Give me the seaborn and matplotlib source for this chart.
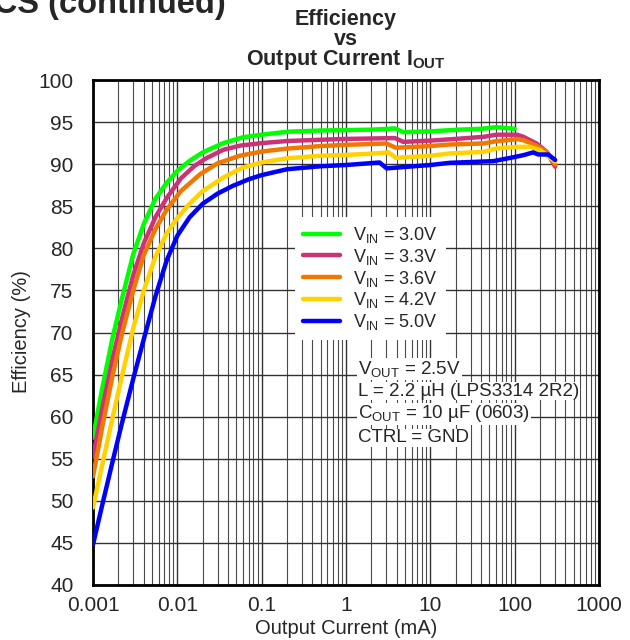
import numpy as np
import pandas as pd
import matplotlib
matplotlib.use("Agg")
import matplotlib.pyplot as plt
import seaborn as sns

# ---------------- data ----------------
x_30 = [0.001, 0.0013, 0.0017, 0.0022, 0.003, 0.004, 0.0055, 0.0075, 0.01, 0.014, 0.02,
        0.035, 0.06, 0.1, 0.2, 0.5, 1, 2, 3.8, 4.8, 10, 22, 40, 61, 100]
eff_30 = [57.5, 63.6, 69.3, 74.0, 79.3, 82.9, 85.9, 87.8, 89.2, 90.4, 91.4,
          92.5, 93.2, 93.5, 93.85, 94.0, 94.05, 94.1, 94.25, 93.8, 93.9, 94.1, 94.2, 94.4, 94.2]

x_33 = [0.001, 0.0013, 0.0017, 0.0022, 0.003, 0.004, 0.0055, 0.0075, 0.011, 0.016, 0.022, 0.035,
        0.055, 0.1, 0.2, 0.5, 1, 2, 3.8, 4.8, 10, 20, 43, 61, 107, 127, 182, 241, 302]
eff_33 = [55.2, 61.2, 66.8, 71.6, 76.8, 80.6, 83.7, 86.0, 88.3, 89.8, 90.7, 91.7,
          92.2, 92.5, 92.75, 92.9, 93.0, 93.05, 93.1, 92.65, 92.8, 93.0, 93.25, 93.5, 93.5, 93.25, 92.45, 91.45, 89.7]

x_36 = [0.001, 0.0013, 0.0017, 0.0022, 0.003, 0.004, 0.0055, 0.0075, 0.011, 0.0186, 0.03, 0.055,
        0.1, 0.2, 0.5, 1, 2, 3.0, 3.9, 10, 17, 43, 61, 107, 127, 182, 241, 302]
eff_36 = [52.9, 59.0, 64.8, 69.8, 75.0, 79.2, 82.3, 84.6, 86.8, 88.8, 90.1, 91.0,
          91.5, 91.85, 92.15, 92.3, 92.4, 92.46, 91.95, 92.15, 92.34, 92.46, 92.74, 92.97, 92.86, 92.18, 91.4, 89.96]

x_42 = [0.001, 0.0013, 0.0017, 0.0022, 0.003, 0.004, 0.0055, 0.0075, 0.01, 0.014, 0.02, 0.035,
        0.06, 0.1, 0.2, 0.5, 1, 2, 3.2, 3.9, 10, 17, 43, 61, 107, 152, 200, 302]
eff_42 = [49.2, 54.5, 59.8, 64.8, 70.5, 75.0, 79.0, 81.8, 83.6, 85.3, 86.8, 88.4,
          89.6, 90.2, 90.7, 91.0, 91.1, 91.25, 91.4, 90.75, 91.0, 91.27, 91.47, 91.87, 92.06, 92.06, 91.67, 90.3]

x_50 = [0.001, 0.0013, 0.0017, 0.0022, 0.003, 0.004, 0.0055, 0.0075, 0.01, 0.014, 0.02, 0.03,
        0.045, 0.07, 0.1, 0.2, 0.5, 1, 2.5, 3.03, 10, 17, 56, 89, 127, 166, 190, 250, 302]
eff_50 = [44.8, 49.7, 54.6, 59.2, 64.5, 69.2, 74.3, 78.6, 81.5, 83.7, 85.3, 86.5,
          87.4, 88.2, 88.7, 89.4, 89.75, 89.9, 90.2, 89.5, 89.9, 90.16, 90.36, 90.75, 91.07, 91.4, 91.15, 91.15, 90.5]

series_labels = [r"V$_{\mathregular{IN}}$ = 3.0V", r"V$_{\mathregular{IN}}$ = 3.3V",
                 r"V$_{\mathregular{IN}}$ = 3.6V", r"V$_{\mathregular{IN}}$ = 4.2V",
                 r"V$_{\mathregular{IN}}$ = 5.0V"]
series_colors = ["#00ff00", "#cc3377", "#f07800", "#ffd200", "#0000ff"]

x_ticks = [0.001, 0.01, 0.1, 1, 10, 100, 1000]
x_tick_labels = ["0.001", "0.01", "0.1", "1", "10", "100", "1000"]
y_ticks = list(range(40, 101, 5))

# ---------------- build long table ----------------
frames = []
for lab, xs, ys in zip(series_labels, [x_30, x_33, x_36, x_42, x_50],
                       [eff_30, eff_33, eff_36, eff_42, eff_50]):
    frames.append(pd.DataFrame({"current": xs, "eff": ys, "series": lab}))
df = pd.concat(frames, ignore_index=True)

# ---------------- style ----------------
sns.set_style("white")
plt.rcParams["font.family"] = ["Liberation Sans", "DejaVu Sans"]
plt.rcParams["mathtext.fontset"] = "custom"
plt.rcParams["mathtext.rm"] = "Liberation Sans"
plt.rcParams["mathtext.bf"] = "Liberation Sans:bold"
plt.rcParams["mathtext.default"] = "regular"

fig = plt.figure(figsize=(6.3, 6.4), dpi=100)
ax = fig.add_axes([93 / 630, 1 - 585 / 640, 506 / 630, 505 / 640])

sns.lineplot(data=df, x="current", y="eff", hue="series", hue_order=series_labels,
             palette=series_colors, estimator=None, sort=False, lw=3.2, ax=ax,
             legend=True, zorder=3)

ax.set_xscale("log")
ax.set_xlim(0.001, 1000)
ax.set_ylim(40, 100)
ax.set_xticks(x_ticks)
ax.set_xticklabels(x_tick_labels)
ax.set_yticks(y_ticks)
ax.set_yticklabels([str(v) for v in y_ticks])
ax.xaxis.set_minor_locator(matplotlib.ticker.LogLocator(base=10, subs=np.arange(2, 10)))
ax.xaxis.set_minor_formatter(matplotlib.ticker.NullFormatter())
ax.tick_params(axis="both", which="both", length=0, labelsize=15)
ax.tick_params(axis="y", pad=14)
ax.tick_params(axis="x", pad=8)

ax.grid(True, which="major", axis="both", color="#333333", lw=1.0, zorder=0)
ax.grid(True, which="minor", axis="x", color="#4a4a4a", lw=0.8, zorder=0)
ax.set_axisbelow(True)
for s in ax.spines.values():
    s.set_color("black")
    s.set_linewidth(2)
ax.set_xlabel("")
ax.set_ylabel("")

# legend
handles, labels = ax.get_legend_handles_labels()
leg = ax.legend(handles, labels, loc="upper left", bbox_to_anchor=(0.399, 0.729),
                frameon=True, facecolor="white", edgecolor="none", framealpha=1,
                fancybox=False, fontsize=13, handlelength=2.05, handletextpad=0.72,
                labelspacing=0.1, borderpad=0.45, borderaxespad=0)
for h in leg.get_lines():
    h.set_linewidth(3.2)
leg.set_zorder(5)

# conditions annotation
notes = [r"V$_{\mathregular{OUT}}$ = 2.5V", "L = 2.2 µH (LPS3314 2R2)",
         r"C$_{\mathregular{OUT}}$ = 10 µF (0603)", "CTRL = GND"]
note_y_px = [369, 391, 414, 438]
for t, ypx in zip(notes, note_y_px):
    ax.text(0.524, 1 - (ypx - 80) / 505, t, transform=ax.transAxes, fontsize=13.5,
            ha="left", va="center", zorder=6,
            bbox=dict(facecolor="white", edgecolor="none", pad=0.5))

# titles and labels
fig.text(346 / 630, 1 - 25 / 640, "Efficiency", ha="center", va="baseline",
         fontsize=15.5, weight="bold")
fig.text(346 / 630, 1 - 45 / 640, "vs", ha="center", va="baseline",
         fontsize=15.5, weight="bold")
fig.text(346 / 630, 1 - 65 / 640, r"Output Current I$_{\mathbf{OUT}}$", ha="center",
         va="baseline", fontsize=15.5, weight="bold")
fig.text(226 / 630, 1 - 13 / 640, "TYPICAL CHARACTERISTICS (continued)", ha="right",
         va="baseline", fontsize=23.5, weight="bold")

fig.text(22 / 630, 1 - 332 / 640, "Efficiency (%)", rotation=90, ha="center",
         va="center", fontsize=14.5)
fig.text(346 / 630, 1 - 628 / 640, "Output Current (mA)", ha="center", va="center",
         fontsize=14.5)

fig.savefig("out.png", dpi=100)
